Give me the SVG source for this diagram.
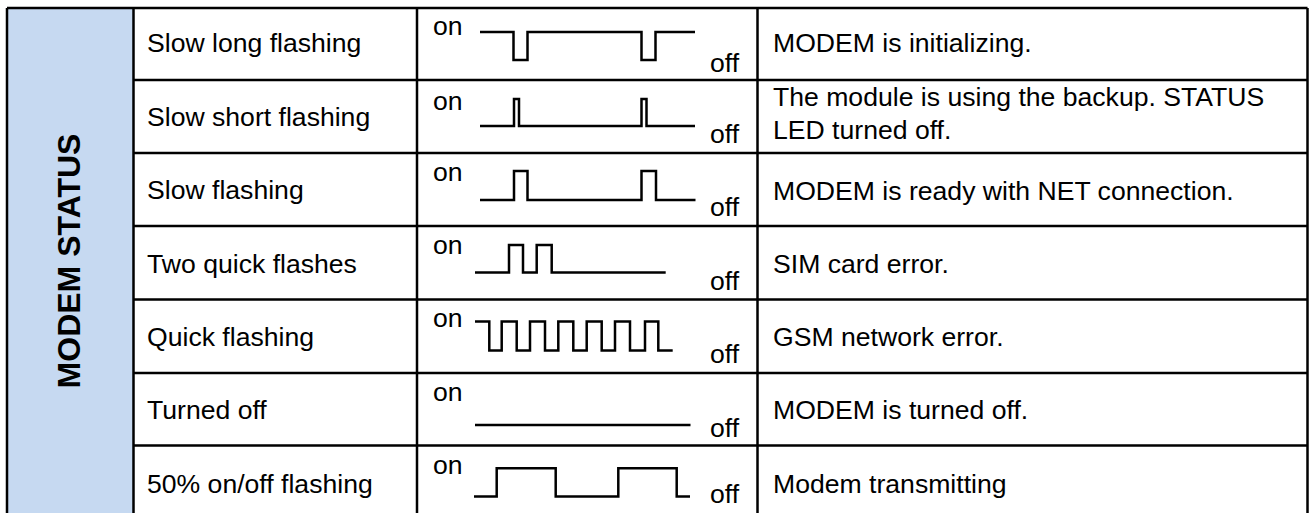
<svg xmlns="http://www.w3.org/2000/svg" width="1311" height="513" viewBox="0 0 1311 513">
<style>
.t{font-family:"Liberation Sans",Arial,sans-serif;font-size:26.6px;fill:#000}
.h{font-family:"Liberation Sans",Arial,sans-serif;font-size:32px;font-weight:bold;fill:#000}
.g{stroke:#000;stroke-width:2.5;fill:none}
.w{stroke:#000;stroke-width:2.5;fill:none;stroke-linejoin:miter}
</style>
<rect width="1311" height="513" fill="#fff"/>
<g id="header">
<rect x="7" y="8" width="126.5" height="510" fill="#C6D9F1"/>
<text class="h" transform="translate(80,261) rotate(-90)" text-anchor="middle">MODEM STATUS</text>
</g>
<g id="grid">
<path class="g" d="M7,8 H1307.5 M7,8 V513 M133.5,8 V513 M417,8 V513 M757.5,8 V513 M1307.5,8 V513 M133.5,80 H1307.5 M133.5,153 H1307.5 M133.5,226 H1307.5 M133.5,299.5 H1307.5 M133.5,373 H1307.5 M133.5,445.5 H1307.5"/>
</g>
<g id="row1">
<text class="t" x="147" y="52">Slow long flashing</text>
<text class="t" x="433" y="35">on</text>
<path class="w" d="M480,32 H513.5 V60 H527.5 V32 H641.5 V60 H655.5 V32 H695"/>
<text class="t" x="710" y="72">off</text>
<text class="t" x="773" y="52">MODEM is initializing.</text>
</g>
<g id="row2">
<text class="t" x="147" y="126">Slow short flashing</text>
<text class="t" x="433" y="110">on</text>
<path class="w" d="M480,126 H514 V99 H519 V126 H641.5 V99 H646.5 V126 H695"/>
<text class="t" x="710" y="143">off</text>
<text class="t" x="773" y="106">The module is using the backup. STATUS</text>
<text class="t" x="773" y="139">LED turned off.</text>
</g>
<g id="row3">
<text class="t" x="147" y="199">Slow flashing</text>
<text class="t" x="433" y="181">on</text>
<path class="w" d="M480,200 H514 V171 H527.5 V200 H641.5 V171 H656 V200 H695.5"/>
<text class="t" x="710" y="216">off</text>
<text class="t" x="773" y="200">MODEM is ready with NET connection.</text>
</g>
<g id="row4">
<text class="t" x="147" y="273">Two quick flashes</text>
<text class="t" x="433" y="254">on</text>
<path class="w" stroke-width="3" d="M475,272.5 H509 V245 H523 V272.5 H536.7 V245 H551.7 V272.5 H665.7"/>
<text class="t" x="710" y="290">off</text>
<text class="t" x="773" y="273">SIM card error.</text>
</g>
<g id="row5">
<text class="t" x="147" y="346">Quick flashing</text>
<text class="t" x="433" y="327">on</text>
<path class="w" d="M475,321.5 H489.3 V350.5 H501.7 V321.5 H516.7 V350.5 H530 V321.5 H545 V350.5 H558.3 V321.5 H573.3 V350.5 H586.7 V321.5 H601.7 V350.5 H615 V321.5 H630 V350.5 H645 V321.5 H658.3 V350.5 H672.7"/>
<text class="t" x="710" y="363">off</text>
<text class="t" x="773" y="346">GSM network error.</text>
</g>
<g id="row6">
<text class="t" x="147" y="419">Turned off</text>
<text class="t" x="433" y="401">on</text>
<path class="w" d="M475,425 H690.5"/>
<text class="t" x="710" y="437">off</text>
<text class="t" x="773" y="419">MODEM is turned off.</text>
</g>
<g id="row7">
<text class="t" x="147" y="493">50% on/off flashing</text>
<text class="t" x="433" y="474">on</text>
<path class="w" d="M474,496.5 H496.7 V468.3 H555.7 V496.5 H618.3 V468.3 H676.7 V496.5 H690"/>
<text class="t" x="710" y="503">off</text>
<text class="t" x="773" y="493">Modem transmitting</text>
</g>
</svg>
